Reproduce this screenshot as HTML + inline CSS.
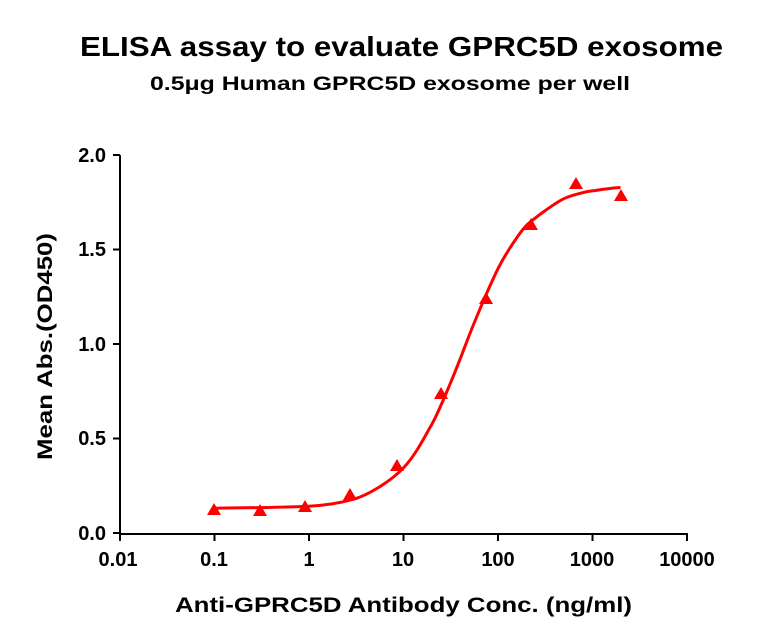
<!DOCTYPE html>
<html><head><meta charset="utf-8"><style>
body{margin:0;background:#fff}
svg{display:block;font-family:"Liberation Sans",Arial,sans-serif;font-weight:bold}
</style></head><body>
<svg width="768" height="642" viewBox="0 0 768 642">
<text x="80" y="56" font-size="28" textLength="643" lengthAdjust="spacingAndGlyphs">ELISA assay to evaluate GPRC5D exosome</text>
<text x="150" y="90" font-size="19" textLength="480" lengthAdjust="spacingAndGlyphs">0.5μg Human GPRC5D exosome per well</text>
<g stroke="#000" stroke-width="2" fill="none">
<path d="M120 155V534H687"/>
<path d="M113 155H120M113 249.5H120M113 344H120M113 438.5H120M113 533H120"/>
<path d="M120 533v8M214.5 533v8M309 533v8M403.5 533v8M498 533v8M592.5 533v8M687 533v8"/>
</g>
<g font-size="20" text-anchor="end">
<text x="106" y="162">2.0</text>
<text x="106" y="256">1.5</text>
<text x="106" y="351">1.0</text>
<text x="106" y="445">0.5</text>
<text x="106" y="540">0.0</text>
</g>
<g font-size="20" text-anchor="middle">
<text x="118" y="566">0.01</text>
<text x="214" y="566">0.1</text>
<text x="309" y="566">1</text>
<text x="403" y="566">10</text>
<text x="498" y="566">100</text>
<text x="592" y="566">1000</text>
<text x="687" y="566">10000</text>
</g>
<text x="175" y="612" font-size="21" textLength="457" lengthAdjust="spacingAndGlyphs">Anti-GPRC5D Antibody Conc. (ng/ml)</text>
<text transform="translate(52,460) rotate(-90)" font-size="21" textLength="227" lengthAdjust="spacingAndGlyphs">Mean Abs.(OD450)</text>
<path fill="none" stroke="#f00" stroke-width="3" d="M214,508.2 C260,507.8 290,507 308.5,506.2 S340,503 353.6,499.2 S390,482 403,468.4 S425,436 431.5,424.9 S455,373 464.8,346.8 S490,285 497.5,269.7 S520,232 526,225.9 S555,203 563.6,198.8 S590,191 592,190.9 S610,188 620.5,187.5"/>
<g fill="#f00">
<path d="M214 503l7 12h-14z"/>
<path d="M260 504l7 12h-14z"/>
<path d="M305 500l7 12h-14z"/>
<path d="M350 488l7 12h-14z"/>
<path d="M397 459l7 12h-14z"/>
<path d="M441 387l7 12h-14z"/>
<path d="M486 292l7 12h-14z"/>
<path d="M531 218l7 12h-14z"/>
<path d="M576 177l7 12h-14z"/>
<path d="M621 189l7 12h-14z"/>
</g>
</svg>
</body></html>
